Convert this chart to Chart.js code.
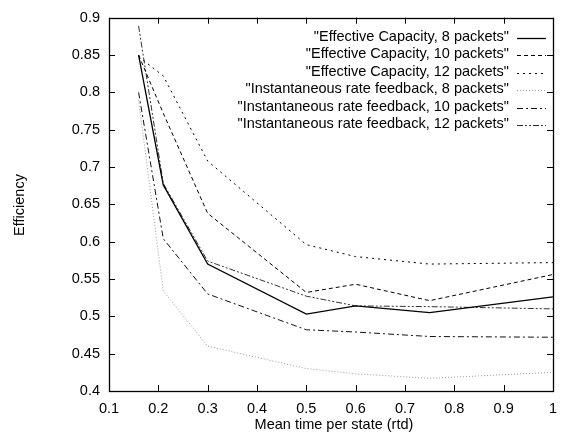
<!DOCTYPE html>
<html lang="en">
  <head>
    <meta charset="utf-8" />
    <title>Efficiency vs mean time per state</title>
    <style>
      html, body { margin: 0; padding: 0; background: #fff; }
      .chartBox { width: 566px; height: 436px; }
    </style>
  </head>
  <body>
    <div class="chartBox">
      <canvas id="myChart" width="566" height="436"></canvas>
    </div>
    <script src="https://cdn.jsdelivr.net/npm/chart.js/dist/chart.umd.min.js"></script>
    <script>
      // data
      const meanTime = [0.16, 0.21, 0.3, 0.5, 0.6, 0.75, 1.0];
      const ec8 = [0.85, 0.676, 0.570, 0.503, 0.514, 0.505, 0.526];
      const ec10 = [0.85, 0.772, 0.638, 0.532, 0.543, 0.521, 0.556];
      const ec12 = [0.848, 0.822, 0.708, 0.596, 0.580, 0.570, 0.572];
      const irf8 = [0.79, 0.534, 0.460, 0.430, 0.423, 0.417, 0.425];
      const irf10 = [0.80, 0.604, 0.530, 0.482, 0.479, 0.473, 0.472];
      const irf12 = [0.889, 0.678, 0.574, 0.527, 0.514, 0.513, 0.510];

      const seriesNames = [
        '"Effective Capacity, 8 packets"',
        '"Effective Capacity, 10 packets"',
        '"Effective Capacity, 12 packets"',
        '"Instantaneous rate feedback, 8 packets"',
        '"Instantaneous rate feedback, 10 packets"',
        '"Instantaneous rate feedback, 12 packets"',
      ];
      const xTicks = [0.1, 0.2, 0.3, 0.4, 0.5, 0.6, 0.7, 0.8, 0.9, 1];
      const yTicks = [0.4, 0.45, 0.5, 0.55, 0.6, 0.65, 0.7, 0.75, 0.8, 0.85, 0.9];
      const xTitle = "Mean time per state (rtd)";
      const yTitle = "Efficiency";

      const FONT = "'Liberation Sans', Arial, sans-serif";
      const FSIZE = 14.5;

      function pts(ys) {
        return meanTime.map((x, i) => ({ x: x, y: ys[i] }));
      }

      const styles = [
        { color: "#000", width: 1.3, dash: [] },
        { color: "#000", width: 1, dash: [4, 3] },
        { color: "#000", width: 1, dash: [2, 4] },
        { color: "#999", width: 1, dash: [1, 2] },
        { color: "#111", width: 1, dash: [6, 3, 2, 3] },
        { color: "#333", width: 1, dash: [6, 2, 2, 2, 2, 2] },
      ];

      const allSeries = [ec8, ec10, ec12, irf8, irf10, irf12];
      const datasets = allSeries.map((s, i) => ({
        label: seriesNames[i],
        data: pts(s),
        borderColor: styles[i].color,
        borderWidth: styles[i].width,
        borderDash: styles[i].dash,
        pointRadius: 0,
        fill: false,
        tension: 0,
      }));

      const fmt = (v) => String(+Number(v).toFixed(2));

      // gnuplot-like frame, inward ticks, titles and key
      const gnuplotFrame = {
        id: "gnuplotFrame",
        afterDraw(chart) {
          const ctx = chart.ctx;
          const a = chart.chartArea;
          const xs = chart.scales.x;
          const ys = chart.scales.y;
          const tl = 6;
          ctx.save();
          ctx.strokeStyle = "#000";
          ctx.lineWidth = 1;
          ctx.setLineDash([]);
          ctx.beginPath();
          xTicks.forEach((v) => {
            const px = Math.round(xs.getPixelForValue(v)) + 0.5;
            ctx.moveTo(px, a.bottom);
            ctx.lineTo(px, a.bottom - tl);
            ctx.moveTo(px, a.top);
            ctx.lineTo(px, a.top + tl);
          });
          yTicks.forEach((v) => {
            const py = Math.round(ys.getPixelForValue(v)) + 0.5;
            ctx.moveTo(a.left, py);
            ctx.lineTo(a.left + tl, py);
            ctx.moveTo(a.right, py);
            ctx.lineTo(a.right - tl, py);
          });
          ctx.stroke();
          ctx.lineWidth = 1.3;
          ctx.strokeRect(Math.round(a.left) + 0.5, Math.round(a.top) + 0.5,
            Math.round(a.right - a.left), Math.round(a.bottom - a.top));

          // titles
          ctx.fillStyle = "#000";
          ctx.font = FSIZE + "px " + FONT;
          ctx.textAlign = "center";
          ctx.textBaseline = "middle";
          ctx.fillText(xTitle, (a.left + a.right) / 2 + 3, 425);
          ctx.save();
          ctx.translate(20, 205);
          ctx.rotate(-Math.PI / 2);
          ctx.fillText(yTitle, 0, 0);
          ctx.restore();

          // key, text right aligned with sample on the right
          ctx.textAlign = "right";
          chart.data.datasets.forEach((ds, i) => {
            const y = 37 + i * 17.4;
            ctx.fillStyle = "#000";
            ctx.fillText(ds.label, 509, y);
            ctx.strokeStyle = ds.borderColor;
            ctx.lineWidth = ds.borderWidth;
            ctx.setLineDash(ds.borderDash);
            ctx.beginPath();
            ctx.moveTo(517, Math.round(y) + 1.5);
            ctx.lineTo(546, Math.round(y) + 1.5);
            ctx.stroke();
          });
          ctx.restore();
        },
      };

      const config = {
        type: "line",
        data: { datasets: datasets },
        options: {
          responsive: false,
          animation: false,
          layout: { padding: { top: 14, right: 7, left: 0, bottom: 0 } },
          plugins: { legend: { display: false }, tooltip: { enabled: false } },
          scales: {
            x: {
              type: "linear",
              min: 0.1,
              max: 1,
              afterBuildTicks: (s) => { s.ticks = xTicks.map((v) => ({ value: v })); },
              afterFit: (s) => { s.height = 45; },
              grid: { display: false, drawTicks: false },
              border: { display: false },
              ticks: {
                color: "#000",
                font: { size: FSIZE, family: FONT },
                padding: 9,
                maxRotation: 0,
                callback: fmt,
              },
            },
            y: {
              type: "linear",
              min: 0.4,
              max: 0.9,
              afterBuildTicks: (s) => { s.ticks = yTicks.map((v) => ({ value: v })); },
              afterFit: (s) => { s.width = 109; },
              grid: { display: false, drawTicks: false },
              border: { display: false },
              ticks: {
                color: "#000",
                font: { size: FSIZE, family: FONT },
                padding: 9,
                callback: fmt,
              },
            },
          },
        },
        plugins: [gnuplotFrame],
      };

      const myChart = new Chart(document.getElementById("myChart"), config);
    </script>
  </body>
</html>
